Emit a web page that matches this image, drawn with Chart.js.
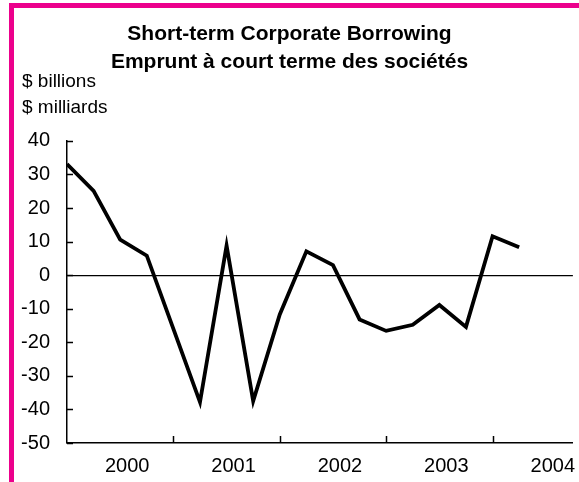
<!DOCTYPE html>
<html>
<head>
<meta charset="utf-8">
<script src="https://cdn.jsdelivr.net/npm/chart.js@4"></script>
<style>
  html, body { margin: 0; padding: 0; background: #fff; overflow: hidden; }
  #wrap { position: relative; width: 579px; height: 482px; }
  #frameL { position: absolute; left: 9px; top: 3px; width: 5px; height: 479px; background: #EC008C; }
  #frameT { position: absolute; left: 9px; top: 3px; width: 570px; height: 5px; background: #EC008C; }
  canvas { position: absolute; left: 0; top: 0; }
</style>
</head>
<body>
<div id="wrap">
  <canvas id="myChart" width="579" height="482"></canvas>
  <div id="frameL"></div>
  <div id="frameT"></div>
</div>
<script>
// quarterly values, starting at the first quarter shown
var quarters = [0, 1, 2, 3, 4, 5, 6, 7, 8, 9, 10, 11, 12, 13, 14, 15, 16, 17];
var borrowing = [33.1, 25.1, 10.6, 5.8, -16, -37.8, 8.8, -37.5, -11.7, 7.1, 3.0, -13.2, -16.6, -14.8, -8.9, -15.4, 11.6, 8.3];
var years = ["2000", "2001", "2002", "2003", "2004"];
var yTicks = [-50, -40, -30, -20, -10, 0, 10, 20, 30, 40];

var font = "'Liberation Sans', Arial, sans-serif";

var points = quarters.map(function(q, i) { return {x: q, y: borrowing[i]}; });

// units text + inside tick marks
var extras = {
    id: 'extras',
    afterDraw: function(chart) {
        var ctx = chart.ctx;
        var xs = chart.scales.x, ys = chart.scales.y;
        var area = chart.chartArea;
        ctx.save();
        ctx.fillStyle = '#000';
        ctx.font = '19px ' + font;
        ctx.textAlign = 'left';
        ctx.textBaseline = 'alphabetic';
        ctx.fillText('$ billions', 22, 87);
        ctx.fillText('$ milliards', 22, 113);

        ctx.strokeStyle = '#000';
        ctx.lineWidth = 1.5;
        ctx.beginPath();
        for (var v = 4; v <= 16; v += 4) {
            var px = Math.round(xs.getPixelForValue(v)) + 0.5;
            ctx.moveTo(px, area.bottom);
            ctx.lineTo(px, area.bottom - 7);
        }
        yTicks.forEach(function(t) {
            var py = Math.round(ys.getPixelForValue(t)) + 0.5;
            ctx.moveTo(area.left, py);
            ctx.lineTo(area.left + 6, py);
        });
        ctx.stroke();
        ctx.restore();
    }
};

var ctx = document.getElementById("myChart").getContext("2d");

var data = {
    datasets: [
        {
            label: "Short-term corporate borrowing",
            data: points,
            borderColor: "#000",
            borderWidth: 3.8,
            pointRadius: 0,
            tension: 0,
            fill: false
        }
    ]
};

var config = {
    type: 'line',
    data: data,
    plugins: [extras],
    options: {
        responsive: false,
        animation: false,
        layout: { padding: { top: 20, left: 0, right: 0, bottom: 0 } },
        plugins: {
            legend: { display: false },
            tooltip: { enabled: false },
            title: {
                display: true,
                text: ["Short-term Corporate Borrowing", "Emprunt à court terme des sociétés"],
                color: '#000',
                font: { family: font, size: 21, weight: 'bold', lineHeight: 1.33 },
                padding: { top: 0, bottom: 65 }
            }
        },
        scales: {
            x: {
                type: 'linear',
                min: 0,
                max: 19.02,
                afterFit: function(scale) { scale.height = 39; },
                afterBuildTicks: function(scale) {
                    scale.ticks = years.map(function(y, i) { return {value: 2 + i * 4}; });
                },
                ticks: {
                    autoSkip: false,
                    maxRotation: 0,
                    padding: 11,
                    labelOffset: 7,
                    color: '#000',
                    font: { family: font, size: 20 },
                    callback: function(v) {
                        return years[Math.round((v - 2) / 4)];
                    }
                },
                grid: { display: false, drawTicks: false },
                border: { display: true, color: '#000', width: 1.5 }
            },
            y: {
                min: -50,
                max: 40,
                afterFit: function(scale) { scale.width = 67; },
                afterBuildTicks: function(scale) {
                    scale.ticks = yTicks.map(function(t) { return {value: t}; });
                },
                ticks: {
                    padding: 17,
                    color: '#000',
                    font: { family: font, size: 20 }
                },
                grid: {
                    drawTicks: false,
                    lineWidth: 1.2,
                    color: function(c) { return c.tick && c.tick.value === 0 ? '#000' : 'rgba(0,0,0,0)'; }
                },
                border: { display: true, color: '#000', width: 1.5 }
            }
        }
    }
};

var myChart = new Chart(ctx, config);
</script>
</body>
</html>
